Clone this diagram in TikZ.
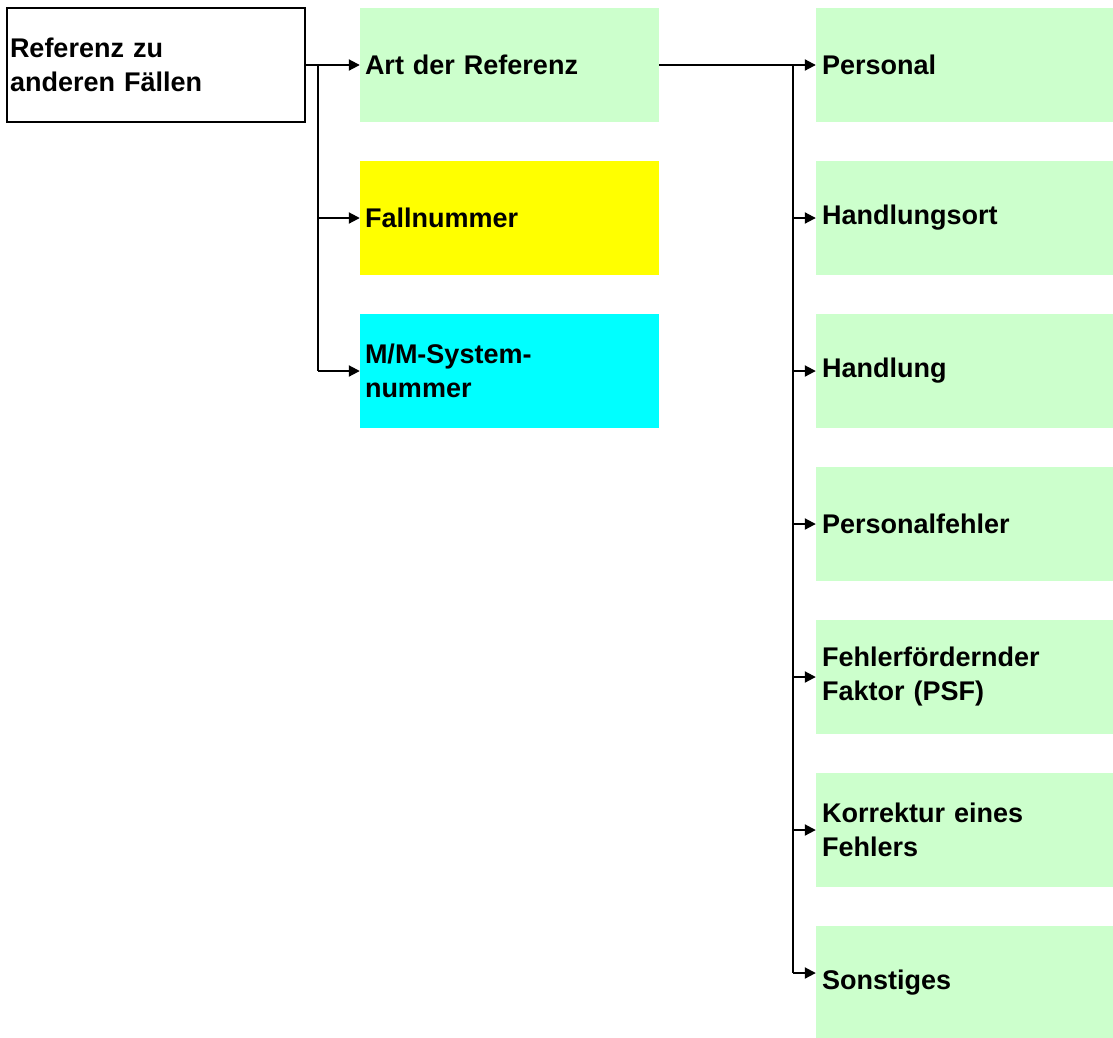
\documentclass[tikz,border=0pt]{standalone}
\usepackage{fontspec}
\setmainfont{Liberation Sans}
\usetikzlibrary{arrows.meta}
\definecolor{lgreen}{HTML}{CCFFCC}
\definecolor{lyellow}{HTML}{FFFF00}
\definecolor{lcyan}{HTML}{00FFFF}
\tikzstyle{box} = [minimum height=114pt, inner ysep=0pt, align=left,
  font=\fontsize{27}{34}\selectfont\bfseries]
\tikzstyle{rootbox} = [box, draw=black, line width=1.3pt, text width=292pt, inner xsep=3pt]
\tikzstyle{midbox} = [box, text width=289pt, inner xsep=5pt]
\tikzstyle{leafbox} = [box, fill=lgreen, text width=285pt, inner xsep=6pt]
\tikzstyle{branch} = [line width=2pt, -{Triangle[length=11pt,width=11pt]}]
\tikzstyle{trunk} = [line width=1.2pt]

\begin{document}
\begin{tikzpicture}[x=1pt,y=-1pt]
  \useasboundingbox (0,0) rectangle (1113,1037);
  \node (root) at (156,65) [rootbox] {Referenz zu\\anderen Fällen};
  \node (art) at (509.5,65) [midbox, fill=lgreen] {Art der Referenz};
  \node (fall) at (509.5,218) [midbox, fill=lyellow] {Fallnummer};
  \node (mm) at (509.5,371) [midbox, fill=lcyan] {M/M-System-\\nummer};

  \node (pers) at (964.5,65) [leafbox] {Personal};
  \node (ort) at (964.5,218) [leafbox] {Handlungsort};
  \node (hand) at (964.5,371) [leafbox] {Handlung};
  \node (pfehl) at (964.5,524) [leafbox] {Personalfehler};
  \node (psf) at (964.5,677) [leafbox] {Fehlerfördernder\\Faktor (PSF)};
  \node (korr) at (964.5,830) [leafbox] {Korrektur eines\\Fehlers};
  \node (sonst) at (964.5,983) [leafbox] {Sonstiges};
  \coordinate (sonstin) at ([yshift=10pt]sonst.west);

  % left tree
  \coordinate (lt) at (318,65);
  \draw [branch] (root.east) -- (art.west);
  \draw [trunk] (lt) -- (lt |- mm.west);
  \draw [branch] (lt |- fall.west) -- (fall.west);
  \draw [branch] (lt |- mm.west) -- (mm.west);

  % right tree
  \coordinate (rt) at (793,65);
  \draw [branch] (art.east) -- (pers.west);
  \draw [trunk] (rt) -- (rt |- sonstin);
  \foreach \n in {ort,hand,pfehl,psf,korr}
    \draw [branch] (rt |- \n.west) -- (\n.west);
  \draw [branch] (rt |- sonstin) -- (sonstin);
\end{tikzpicture}
\end{document}
